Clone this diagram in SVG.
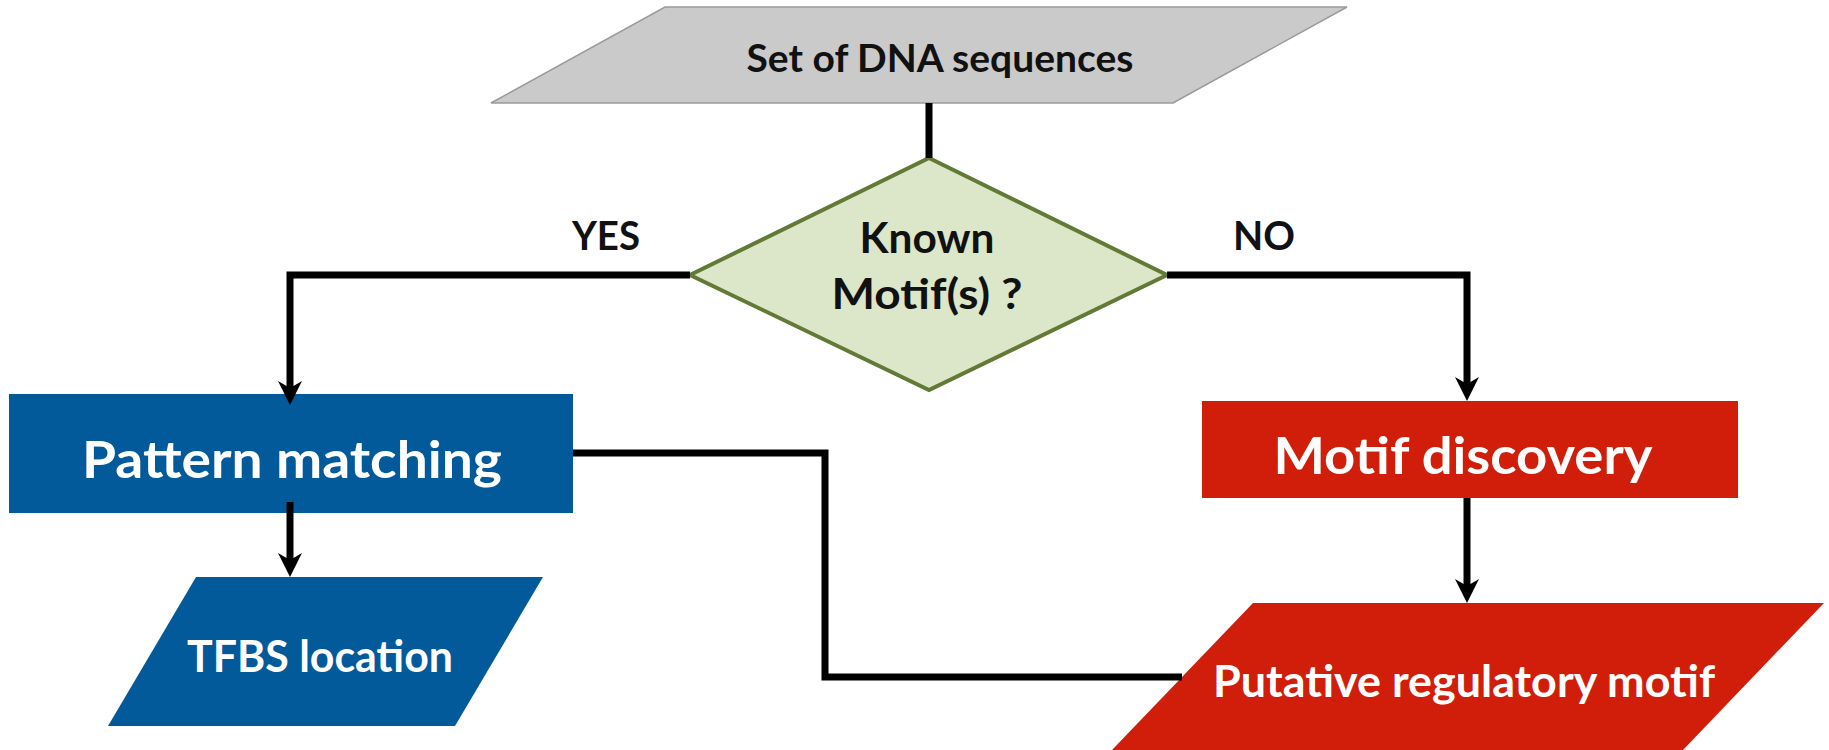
<svg xmlns="http://www.w3.org/2000/svg" width="1829" height="750" viewBox="0 0 1829 750">
<style>
  .t { font-family: Lato, "Liberation Sans", sans-serif; font-weight: bold; text-anchor: middle; }
  .dark { fill: #111111; }
  .white { fill: #ffffff; }
  .conn { fill: none; stroke: #000000; stroke-width: 7; stroke-linejoin: miter; }
</style>
<defs>
  <marker id="arr" viewBox="0 0 24 24" markerWidth="24" markerHeight="24" refX="10" refY="12" orient="auto" markerUnits="userSpaceOnUse">
    <path d="M0,0 L24,12 L0,24 L7,12 z" fill="#000000"/>
  </marker>
</defs>
<rect width="1829" height="750" fill="#ffffff"/>

<g id="dna">
  <polygon points="665,7 1347,7 1173,103 491,103" fill="#cacaca" stroke="#9a9a9a" stroke-width="1.5"/>
  <text class="t dark" x="940" y="72" font-size="39" textLength="387" lengthAdjust="spacingAndGlyphs">Set of DNA sequences</text>
</g>

<g id="decision">
  <polygon points="929,158 1167,275 929,390 690,275" fill="#dce6c8" stroke="#627a35" stroke-width="4"/>
  <text class="t dark" x="927" y="253" font-size="42" textLength="135" lengthAdjust="spacingAndGlyphs">Known</text>
  <text class="t dark" x="927" y="309" font-size="42" textLength="191" lengthAdjust="spacingAndGlyphs">Motif(s) ?</text>
</g>

<g id="yes-label">
  <text class="t dark" x="606" y="250" font-size="41" textLength="68" lengthAdjust="spacingAndGlyphs">YES</text>
</g>
<g id="no-label">
  <text class="t dark" x="1264" y="250" font-size="41" textLength="62" lengthAdjust="spacingAndGlyphs">NO</text>
</g>

<g id="pattern">
  <rect x="9" y="394" width="564" height="119" fill="#035a9b"/>
  <text class="t white" x="292" y="478" font-size="52" textLength="420" lengthAdjust="spacingAndGlyphs">Pattern matching</text>
</g>

<g id="discovery">
  <rect x="1202" y="401" width="536" height="97" fill="#d11e0a"/>
  <text class="t white" x="1463" y="474" font-size="52" textLength="379" lengthAdjust="spacingAndGlyphs">Motif discovery</text>
</g>

<g id="tfbs">
  <polygon points="196,577 543,577 455,726 108,726" fill="#035a9b"/>
  <text class="t white" x="320" y="672" font-size="43" textLength="266" lengthAdjust="spacingAndGlyphs">TFBS location</text>
</g>

<g id="putative">
  <polygon points="1253,603 1824,603 1683,750 1112,750" fill="#d11e0a"/>
  <text class="t white" x="1464" y="697" font-size="43" textLength="502" lengthAdjust="spacingAndGlyphs">Putative regulatory motif</text>
</g>

<g id="connectors">
  <path class="conn" d="M929,103 V158"/>
  <path class="conn" d="M690,275 H290 V391" marker-end="url(#arr)"/>
  <path class="conn" d="M1167,275 H1467 V387" marker-end="url(#arr)"/>
  <path class="conn" d="M290,502 V563" marker-end="url(#arr)"/>
  <path class="conn" d="M1467,498 V589" marker-end="url(#arr)"/>
  <path class="conn" d="M573,453 H825 V677 H1182"/>
</g>
</svg>
